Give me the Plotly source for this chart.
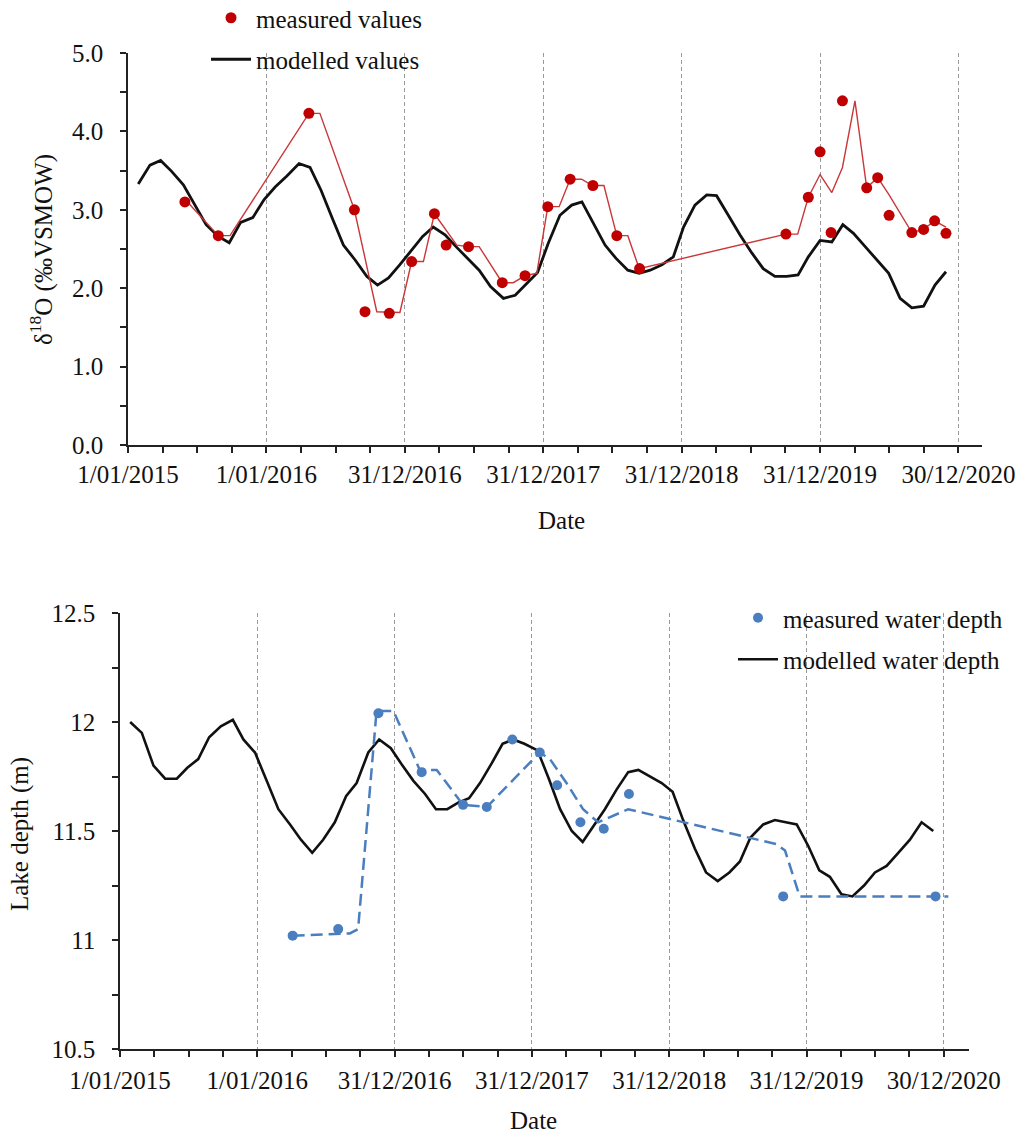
import pandas as pd
import plotly.graph_objects as go

BASE = pd.Timestamp("2015-01-01")

# ---------------- top panel: delta 18O ----------------
model_o18_days = [27, 58, 86, 115, 146, 177, 206, 238, 267, 297, 329, 359, 388, 419, 451, 480, 509, 539,
                  568, 599, 630, 658, 687, 717, 748, 777, 805, 836, 865, 896, 926, 956, 990, 1021, 1051,
                  1080, 1108, 1139, 1170, 1197, 1227, 1258, 1287, 1318, 1348, 1377, 1408, 1438, 1465, 1495,
                  1526, 1552, 1583, 1614, 1645, 1675, 1706, 1737, 1767, 1794, 1825, 1856, 1885, 1913, 1944,
                  1975, 2006, 2036, 2067, 2098, 2128, 2157]
model_o18 = [3.33, 3.57, 3.63, 3.49, 3.32, 3.06, 2.81, 2.66, 2.58, 2.84, 2.90, 3.13, 3.29, 3.43, 3.59, 3.54,
             3.25, 2.89, 2.55, 2.36, 2.15, 2.04, 2.13, 2.30, 2.49, 2.66, 2.78, 2.68, 2.53, 2.38, 2.23, 2.02,
             1.87, 1.91, 2.06, 2.20, 2.57, 2.93, 3.06, 3.10, 2.83, 2.55, 2.38, 2.23, 2.19, 2.23, 2.30, 2.40,
             2.78, 3.06, 3.19, 3.18, 2.93, 2.68, 2.45, 2.25, 2.15, 2.15, 2.17, 2.40, 2.61, 2.59, 2.81, 2.70,
             2.53, 2.36, 2.19, 1.87, 1.75, 1.77, 2.04, 2.21]

meas_o18_days = [150, 238, 477, 597, 625, 689, 748, 808, 839, 898, 987, 1047, 1107, 1166, 1226, 1289, 1349,
                 1735, 1794, 1825, 1854, 1884, 1948, 1977, 2007, 2067, 2098, 2127, 2157]
meas_o18 = [3.10, 2.67, 4.23, 3.00, 1.70, 1.68, 2.34, 2.95, 2.55, 2.53, 2.07, 2.16, 3.04, 3.39, 3.31, 2.67,
            2.25, 2.69, 3.16, 3.74, 2.71, 4.39, 3.28, 3.41, 2.93, 2.71, 2.75, 2.86, 2.70]

meas_line_days = [155, 238, 269, 477, 506, 597, 656, 717, 748, 779, 808, 867, 897, 926, 987, 1016, 1047,
                  1078, 1107, 1137, 1166, 1196, 1225, 1255, 1289, 1318, 1348, 1735, 1766, 1794, 1825, 1856,
                  1884, 1917, 1948, 1977, 2007, 2067, 2098, 2127, 2157]
meas_line = [3.11, 2.67, 2.67, 4.23, 4.23, 3.00, 1.70, 1.69, 2.34, 2.34, 2.95, 2.55, 2.53, 2.53, 2.07, 2.07,
             2.16, 2.19, 3.04, 3.04, 3.39, 3.39, 3.31, 3.31, 2.67, 2.67, 2.25, 2.69, 2.69, 3.16, 3.45, 3.22,
             3.54, 4.39, 3.28, 3.41, 3.19, 2.71, 2.75, 2.86, 2.78]

# ---------------- bottom panel: lake depth ----------------
model_depth_days = [27, 58, 89, 120, 151, 179, 208, 237, 268, 300, 328, 359, 390, 421, 452, 481, 511, 540,
                    571, 601, 629, 660, 689, 720, 751, 780, 811, 840, 870, 899, 928, 957, 988, 1017, 1045,
                    1075, 1110, 1140, 1170, 1201, 1230, 1258, 1289, 1320, 1351, 1378, 1409, 1440, 1469, 1497,
                    1528, 1558, 1589, 1620, 1648, 1676, 1710, 1741, 1770, 1799, 1830, 1859, 1887, 1918, 1947,
                    1978, 2007, 2038, 2069, 2100, 2131, 2162]
model_depth = [12.00, 11.95, 11.80, 11.74, 11.74, 11.79, 11.83, 11.93, 11.98, 12.01, 11.92, 11.86, 11.73,
               11.60, 11.53, 11.46, 11.40, 11.46, 11.54, 11.66, 11.72, 11.86, 11.92, 11.88, 11.80, 11.73,
               11.67, 11.60, 11.60, 11.63, 11.65, 11.72, 11.81, 11.90, 11.92, 11.90, 11.87, 11.74, 11.60,
               11.50, 11.45, 11.52, 11.60, 11.69, 11.77, 11.78, 11.75, 11.72, 11.68, 11.55, 11.42, 11.31,
               11.27, 11.31, 11.36, 11.47, 11.53, 11.55, 11.54, 11.53, 11.43, 11.32, 11.29, 11.21, 11.20,
               11.25, 11.31, 11.34, 11.40, 11.46, 11.54, 11.50]

meas_depth_days = [459, 580, 687, 802, 912, 975, 1043, 1116, 1162, 1224, 1286, 1353, 1763, 2168]
meas_depth = [11.02, 11.05, 12.04, 11.77, 11.62, 11.61, 11.92, 11.86, 11.71, 11.54, 11.51, 11.67, 11.20, 11.20]

depth_line_days = [459, 611, 633, 682, 727, 797, 842, 912, 975, 1116, 1143, 1187, 1231, 1271, 1351, 1745,
                   1768, 1807, 2202]
depth_line = [11.02, 11.03, 11.05, 12.05, 12.05, 11.78, 11.78, 11.62, 11.61, 11.86, 11.83, 11.72, 11.60,
              11.54, 11.60, 11.44, 11.41, 11.20, 11.20]

tick_days = [0, 365, 730, 1095, 1460, 1825, 2190]
tick_labels = ["1/01/2015", "1/01/2016", "31/12/2016", "31/12/2017", "31/12/2018", "31/12/2019", "30/12/2020"]


def to_dates(days):
    return list(BASE + pd.to_timedelta(days, unit="D"))


FONT = "Liberation Serif, Times New Roman, serif"
RED = "#C00000"
RED_LINE = "#C8373A"
BLUE = "#4A7EBF"
BLACK = "#111111"

fig = go.Figure()

fig.add_trace(go.Scatter(x=to_dates(model_o18_days), y=model_o18, mode="lines", name="modelled values",
                         line=dict(color=BLACK, width=2.8), xaxis="x", yaxis="y", legend="legend",
                         legendrank=2, legendgroup="a2"))
fig.add_trace(go.Scatter(x=to_dates(meas_line_days), y=meas_line, mode="lines", showlegend=False,
                         line=dict(color=RED_LINE, width=1.4), xaxis="x", yaxis="y"))
fig.add_trace(go.Scatter(x=to_dates(meas_o18_days), y=meas_o18, mode="markers", name="measured values",
                         marker=dict(color=RED, size=11), xaxis="x", yaxis="y", legend="legend",
                         legendrank=1, legendgroup="a1"))

fig.add_trace(go.Scatter(x=to_dates(model_depth_days), y=model_depth, mode="lines",
                         name="modelled water depth", line=dict(color=BLACK, width=2.6),
                         xaxis="x2", yaxis="y2", legend="legend2", legendrank=2, legendgroup="b2"))
fig.add_trace(go.Scatter(x=to_dates(depth_line_days), y=depth_line, mode="lines", showlegend=False,
                         line=dict(color=BLUE, width=2.5, dash="12px,6px"), xaxis="x2", yaxis="y2"))
fig.add_trace(go.Scatter(x=to_dates(meas_depth_days), y=meas_depth, mode="markers",
                         name="measured water depth", marker=dict(color=BLUE, size=10),
                         xaxis="x2", yaxis="y2", legend="legend2", legendrank=1, legendgroup="b1"))

W, H = 1019, 1133
tickfont = dict(family=FONT, size=25, color="#111")
xcommon = dict(type="date", tickmode="array", tickvals=to_dates(tick_days), ticktext=tick_labels,
               ticks="outside", ticklen=6, tickwidth=1.5, tickcolor="#222",
               showline=True, linecolor="#222", linewidth=1.5, automargin=False,
               showgrid=True, gridcolor="#9a9a9a", gridwidth=1.2, griddash="4px,3px",
               zeroline=False, tickfont=tickfont,
               minor=dict(ticks="outside", ticklen=6, tickwidth=1.5, tickcolor="#222",
                          dtick=91.25 * 86400000, tick0=BASE, showgrid=False))
ycommon = dict(ticks="outside", ticklen=6, tickwidth=1.5, tickcolor="#222", automargin=False,
               showline=True, linecolor="#222", linewidth=1.5, showgrid=False, zeroline=False,
               tickfont=tickfont, ticklabelstandoff=12)

title_font = dict(family=FONT, size=25, color="#111")

fig.update_layout(
    width=W, height=H, margin=dict(l=0, r=0, t=0, b=0, autoexpand=False),
    paper_bgcolor="white", plot_bgcolor="white",
    font=dict(family=FONT, size=25, color="#111"),
    xaxis=dict(domain=[128 / W, 982 / W], anchor="y", ticklabelstandoff=0,
               range=[BASE, BASE + pd.Timedelta(days=2252)], **xcommon),
    yaxis=dict(domain=[1 - 445 / H, 1 - 53 / H], anchor="x", range=[0, 5], tickvals=[0, 1, 2, 3, 4, 5],
               tickformat=".1f", minor=dict(ticks="outside", ticklen=6, tickwidth=1.5, tickcolor="#222",
                                              dtick=0.5, showgrid=False), **ycommon),
    xaxis2=dict(domain=[120 / W, 969 / W], anchor="y2", ticklabelstandoff=2,
                range=[BASE, BASE + pd.Timedelta(days=2257)], **xcommon),
    yaxis2=dict(domain=[1 - 1049 / H, 1 - 613 / H], anchor="x2", range=[10.5, 12.5],
                tickvals=[10.5, 11, 11.5, 12, 12.5], ticktext=["10.5", "11", "11.5", "12", "12.5"],
                minor=dict(ticks="outside", ticklen=6, tickwidth=1.5, tickcolor="#222",
                           dtick=0.25, showgrid=False), **ycommon),
    legend=dict(x=206 / W, y=1 + 5 / H, xanchor="left", yanchor="top", bgcolor="rgba(0,0,0,0)",
                itemwidth=40, tracegroupgap=6, traceorder="grouped",
                font=dict(family=FONT, size=25, color="#111")),
    legend2=dict(x=733 / W, y=1 - 595 / H, xanchor="left", yanchor="top", bgcolor="rgba(0,0,0,0)",
                 itemwidth=40, tracegroupgap=6, traceorder="grouped",
                 font=dict(family=FONT, size=25, color="#111")),
    annotations=[
        dict(text="δ<sup>18</sup>O (‰VSMOW)", x=41 / W, y=1 - 250 / H, xref="paper", yref="paper",
             xanchor="center", yanchor="middle", textangle=-90, showarrow=False, font=title_font),
        dict(text="Date", x=561 / W, y=1 - 520 / H, xref="paper", yref="paper",
             xanchor="center", yanchor="middle", showarrow=False, font=title_font),
        dict(text="Lake depth (m)", x=20 / W, y=1 - 834 / H, xref="paper", yref="paper",
             xanchor="center", yanchor="middle", textangle=-90, showarrow=False, font=title_font),
        dict(text="Date", x=533 / W, y=1 - 1120 / H, xref="paper", yref="paper",
             xanchor="center", yanchor="middle", showarrow=False, font=title_font),
    ],
)

fig.write_html("out.html")
